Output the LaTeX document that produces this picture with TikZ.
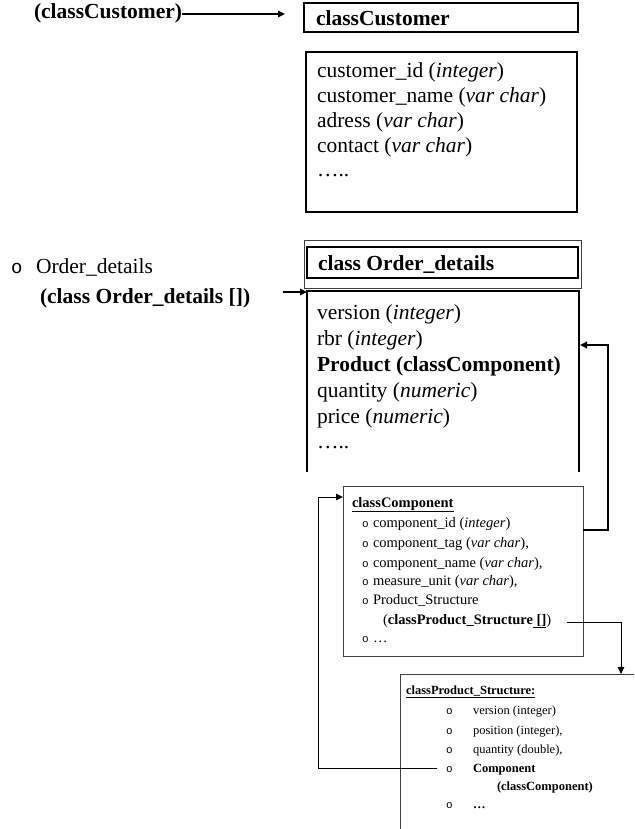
\documentclass[tikz,border=0pt]{standalone}
\usepackage{fontspec}
\setmainfont{Liberation Serif}
\newfontfamily\bulletfont{Liberation Mono}
\usetikzlibrary{arrows.meta}
\begin{document}
\begin{tikzpicture}[x=1pt,y=-1pt, inner sep=0pt, outer sep=0pt,
 big/.style={font=\fontsize{21.5}{25}\selectfont, anchor=base west},
 small/.style={font=\fontsize{14.5}{19}\selectfont, anchor=base west},
 tiny/.style={font=\fontsize{12.5}{18}\selectfont, anchor=base west},
 bul/.style={font=\bulletfont\fontsize{11}{13}\selectfont, anchor=base west},
 thickbox/.style={draw, line width=2pt, anchor=north west},
 thinbox/.style={draw=black!75, line width=1pt, anchor=north west},
 arr/.style={-{Triangle[length=7pt,width=6.5pt]}},
]
\useasboundingbox (0,0) rectangle (634,829);

% ---------- classCustomer ----------
\node[big] (custlabel) at (34,19) {\textbf{(classCustomer)}};
\node[thickbox, minimum width=274, minimum height=29] (custhead) at (304,3) {};
\node[big] (custtitle) at (316,26) {\textbf{classCustomer}};
\node[thickbox, minimum width=271, minimum height=160] (custattr) at (306,52) {};
\node[big] (ca1) at (317,78) {customer\_id (\textit{integer})};
\node[big] (ca2) at (317,103) {customer\_name (\textit{var char})};
\node[big] (ca3) at (317,128) {adress (\textit{var char})};
\node[big] (ca4) at (317,153) {contact (\textit{var char})};
\node[big] (ca5) at (317,177) {…..};
\coordinate (c1start) at (182,14);
\coordinate (c1tip) at (285,14);
\draw[arr, line width=1.5pt] (c1start) -- (c1tip);

% ---------- Order_details ----------
\node[bul, font=\bulletfont\fontsize{19}{21}\selectfont] (ob) at (11,273) {o};
\node[big] (olabel1) at (36,273) {Order\_details};
\node[big] (olabel2) at (40,303) {\textbf{(class Order\_details [])}};
\node[thinbox, minimum width=277, minimum height=48] (ordouter) at (304,240) {};
\node[thickbox, minimum width=271, minimum height=31] (ordhead) at (307,247) {};
\node[big] (ordtitle) at (318,270) {\textbf{class Order\_details}};
\coordinate (oBL) at (307,472);
\coordinate (oTL) at (307,291);
\coordinate (oTR) at (579,291);
\coordinate (oBR) at (579,472);
\draw[line width=2pt] (oBL) -- (oTL) -- (oTR) -- (oBR);
\node[big] (oa1) at (317,319) {version (\textit{integer})};
\node[big] (oa2) at (317,345) {rbr (\textit{integer})};
\node[big] (oa3) at (317,371) {\textbf{Product (classComponent)}};
\node[big] (oa4) at (317,397) {quantity (\textit{numeric})};
\node[big] (oa5) at (317,423) {price (\textit{numeric})};
\node[big] (oa6) at (317,448) {…..};
\coordinate (o2start) at (283,292);
\coordinate (o2tip) at (307,292);
\draw[arr, line width=1.5pt] (o2start) -- (o2tip);

% ---------- classComponent ----------
\node[thinbox, minimum width=240, minimum height=170] (compbox) at (343,486) {};
\node[small] (ct) at (352,507) {\textbf{\underline{classComponent}}};
\node[bul] (cb1) at (362,527) {o};
\node[small] (c1) at (373,527) {component\_id (\textit{integer})};
\node[bul] (cb2) at (362,547) {o};
\node[small] (c2) at (373,547) {component\_tag (\textit{var char}),};
\node[bul] (cb3) at (362,567) {o};
\node[small] (c3) at (373,567) {component\_name (\textit{var char}),};
\node[bul] (cb4) at (362,585) {o};
\node[small] (c4) at (373,585) {measure\_unit (\textit{var char}),};
\node[bul] (cb5) at (362,604) {o};
\node[small] (c5) at (373,604) {Product\_Structure};
\node[small] (c6) at (383,624) {(\textbf{classProduct\_Structure\underline{ []}})};
\node[bul] (cb7) at (362,642) {o};
\node[small] (c7) at (373,642) {…};

\coordinate (k1start) at (583,530);
\coordinate (k1) at (608,345);
\coordinate (k1tip) at (580,345);
\draw[arr, line width=2pt] (k1start) -| (k1) -- (k1tip);

% ---------- classProduct_Structure ----------
\coordinate (pTR) at (634,674);
\coordinate (pTL) at (400,674);
\coordinate (pBL) at (400,829);
\draw[draw=black!75, line width=1pt] (pTR) -- (pTL) -- (pBL);
\node[tiny] (pt) at (406,694) {\textbf{\underline{classProduct\_Structure:}}};
\node[bul, font=\bulletfont\fontsize{11}{13}\selectfont] (pb1) at (446,714) {o};
\node[tiny] (p1) at (473,714) {version (integer)};
\node[bul, font=\bulletfont\fontsize{11}{13}\selectfont] (pb2) at (446,734) {o};
\node[tiny] (p2) at (473,734) {position (integer),};
\node[bul, font=\bulletfont\fontsize{11}{13}\selectfont] (pb3) at (446,753) {o};
\node[tiny] (p3) at (473,753) {quantity (double),};
\node[bul, font=\bulletfont\fontsize{11}{13}\selectfont] (pb4) at (446,772) {o};
\node[tiny] (p4) at (473,772) {\textbf{Component}};
\node[tiny] (p5) at (497,790) {\textbf{(classComponent)}};
\node[bul, font=\bulletfont\fontsize{11}{13}\selectfont] (pb6) at (446,808) {o};
\node[tiny] (p6) at (473,808) {\textbf{…}};

\coordinate (k2start) at (567,622);
\coordinate (k2) at (621,622);
\coordinate (k2tip) at (621,674);
\draw[arr, line width=1pt] (k2start) -- (k2) -- (k2tip);

\coordinate (k3start) at (437,768);
\coordinate (k3) at (318,497);
\coordinate (k3tip) at (343,497);
\draw[arr, line width=1pt] (k3start) -| (k3) -- (k3tip);
\end{tikzpicture}
\end{document}
